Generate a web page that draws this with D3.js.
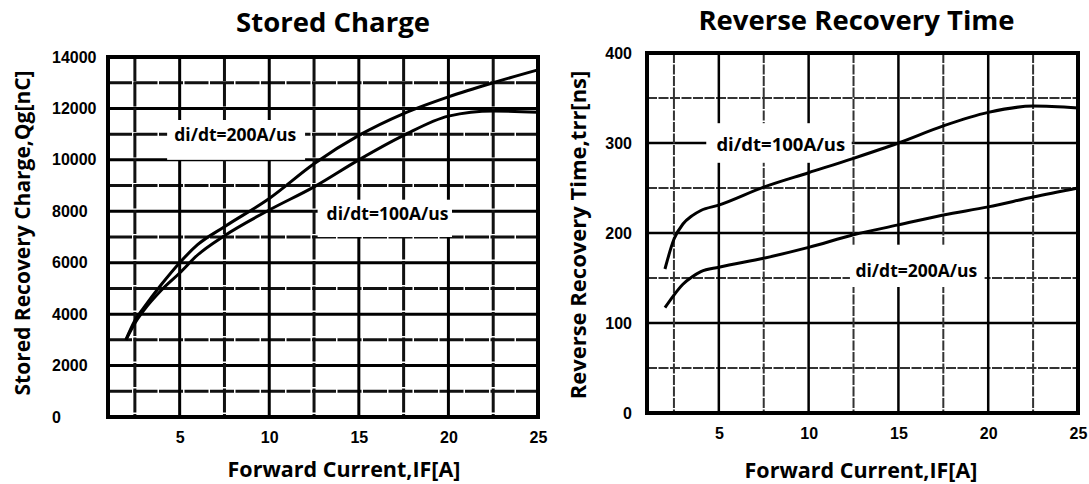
<!DOCTYPE html>
<html>
<head>
<meta charset="utf-8">
<script src="https://cdn.jsdelivr.net/npm/d3@7"></script>
<style>
  body { margin: 0; background: #fff; }
  svg { display: block; font-family: "Open Sans", sans-serif; font-weight: bold; }
</style>
</head>
<body>
<svg id="chart" width="1089" height="484"></svg>
<script>
// values
const currentTicks = [5, 10, 15, 20, 25];
const chargeTicks = [0, 2000, 4000, 6000, 8000, 10000, 12000, 14000];
const trrTicks = [0, 100, 200, 300, 400];

const chargeIF = [2, 2.5, 3, 4, 5, 6, 7.5, 10, 12.5, 15, 17.5, 20, 22.5, 25];
const charge200 = [3000, 3750, 4250, 5170, 6000, 6700, 7400, 8500, 9850, 10950, 11800, 12450, 13000, 13500];
const charge100 = [3000, 3650, 4150, 4950, 5600, 6300, 7050, 8050, 8950, 10000, 10950, 11700, 11900, 11850];

const trrIF = [2, 2.5, 3, 3.5, 4, 5, 7.5, 10, 12.5, 15, 17.5, 20, 22.5, 25];
const trr100 = [160, 193, 210, 219, 225, 231, 251, 267, 283, 300, 319, 334, 341, 339];
const trr200 = [117, 131, 143, 151, 157, 162, 172, 184, 198, 209, 220, 229, 240, 250];

const gridIF = [2.5, 5, 7.5, 10, 12.5, 15, 17.5, 20, 22.5];
const chargeGrid = d3.range(1000, 14000, 1000);
const trrGrid = d3.range(50, 400, 50);

const svg = d3.select('#chart');

function drawPanel(p) {
    const x = d3.scaleLinear().domain([1, 25]).range([p.left, p.right]);
    const y = d3.scaleLinear().domain(p.yDomain).range([p.bottom, p.top]);
    const g = svg.append('g');

    // grid
    g.append('g').selectAll('line')
        .data(p.yGrid)
        .enter().append('line')
        .attr('x1', p.left).attr('x2', p.right)
        .attr('y1', d => y(d)).attr('y2', d => y(d))
        .attr('stroke', d => p.isMajorY(d) ? '#000' : p.minorColor)
        .attr('stroke-width', d => p.isMajorY(d) ? p.gridW : p.minorW)
        .attr('stroke-dasharray', d => p.isMajorY(d) ? null : p.dash);

    g.append('g').selectAll('line')
        .data(gridIF)
        .enter().append('line')
        .attr('x1', d => x(d)).attr('x2', d => x(d))
        .attr('y1', p.top).attr('y2', p.bottom)
        .attr('stroke', d => d % 5 === 0 ? '#000' : p.minorColor)
        .attr('stroke-width', d => d % 5 === 0 ? p.gridW : p.minorW)
        .attr('stroke-dasharray', d => d % 5 === 0 ? null : p.dash);

    // label boxes knock out the grid
    p.labels.forEach(l => {
        g.append('rect')
            .attr('x', x(l.box[0])).attr('width', x(l.box[1]) - x(l.box[0]))
            .attr('y', y(l.box[3])).attr('height', y(l.box[2]) - y(l.box[3]))
            .attr('fill', '#fff');
        g.append('text')
            .attr('x', x(l.at[0])).attr('y', y(l.at[1]))
            .attr('text-anchor', 'middle')
            .attr('dominant-baseline', 'central')
            .attr('font-size', l.size)
            .text(l.text);
    });

    // frame
    g.append('rect')
        .attr('x', p.left).attr('y', p.top)
        .attr('width', p.right - p.left).attr('height', p.bottom - p.top)
        .attr('fill', 'none').attr('stroke', '#000').attr('stroke-width', 4);

    const line = d3.line()
        .x((d, i) => x(p.xs[i]))
        .y(d => y(d))
        .curve(d3.curveMonotoneX);

    p.series.forEach(s => {
        g.append('path')
            .attr('d', line(s))
            .attr('fill', 'none')
            .attr('stroke', '#000')
            .attr('stroke-width', 3);
    });

    // axes
    const xa = g.append('g')
        .attr('transform', `translate(0,${p.xTickY})`)
        .call(d3.axisBottom(x).tickValues(currentTicks).tickSize(0).tickPadding(0));
    xa.select('.domain').remove();
    xa.selectAll('text')
        .attr('font-size', 16).attr('font-family', null).attr('font-weight', 'bold')
        .attr('dy', '0.35em').attr('fill', '#000');

    const ya = g.append('g')
        .attr('transform', `translate(${p.yTickX},0)`)
        .call(d3.axisLeft(y).tickValues(p.yTicks).tickFormat(d3.format('d')).tickSize(0).tickPadding(0));
    ya.select('.domain').remove();
    ya.selectAll('text')
        .attr('font-size', 16).attr('font-family', null).attr('font-weight', 'bold')
        .attr('x', 0).attr('text-anchor', p.yTickAnchor).attr('fill', '#000');

    g.append('text')
        .attr('x', (p.left + p.right) / 2 + p.titleShift).attr('y', p.titleY)
        .attr('text-anchor', 'middle').attr('font-size', 27.5)
        .text(p.title);

    g.append('text')
        .attr('x', p.xLabelX).attr('y', p.xLabelY)
        .attr('text-anchor', 'middle').attr('font-size', 21.5)
        .text('Forward Current,IF[A]');

    g.append('text')
        .attr('transform', `translate(${p.yLabelX},${p.yLabelY}) rotate(-90)`)
        .attr('text-anchor', 'middle').attr('font-size', p.yLabelSize)
        .text(p.yLabel);
}

drawPanel({
    left: 108, right: 538, top: 57, bottom: 417,
    yDomain: [0, 14000], yTicks: chargeTicks, yGrid: chargeGrid,
    isMajorY: d => d % 2000 === 0,
    gridW: 3, minorW: 3, minorColor: '#111', dash: '24 1.5',
    xs: chargeIF, series: [charge200, charge100],
    labels: [
        {text: 'di/dt=200A/us', at: [8.1, 11000], box: [4.3, 12.0, 10000, 11550], size: 17.5},
        {text: 'di/dt=100A/us', at: [16.6, 7950], box: [12.7, 20.2, 7000, 8450], size: 17.5}
    ],
    xTickY: 437, yTickX: 52, yTickAnchor: 'start',
    title: 'Stored Charge', titleY: 32, titleShift: 10,
    xLabelX: 344, xLabelY: 477,
    yLabel: 'Stored Recovery Charge,Qg[nC]', yLabelX: 30, yLabelY: 233, yLabelSize: 21
});

drawPanel({
    left: 647, right: 1078, top: 53, bottom: 413,
    yDomain: [0, 400], yTicks: trrTicks, yGrid: trrGrid,
    isMajorY: d => d % 100 === 0,
    gridW: 2.5, minorW: 2, minorColor: '#333', dash: '10 1.5',
    xs: trrIF, series: [trr100, trr200],
    labels: [
        {text: 'di/dt=100A/us', at: [8.45, 300], box: [4.3, 12.4, 278, 322], size: 18.5},
        {text: 'di/dt=200A/us', at: [16.0, 159], box: [12.3, 19.8, 140, 187], size: 17.5}
    ],
    xTickY: 433, yTickX: 632, yTickAnchor: 'end',
    title: 'Reverse Recovery Time', titleY: 30, titleShift: -6,
    xLabelX: 861, xLabelY: 478,
    yLabel: 'Reverse Recovery Time,trr[ns]', yLabelX: 586, yLabelY: 235, yLabelSize: 22
});
</script>
</body>
</html>
